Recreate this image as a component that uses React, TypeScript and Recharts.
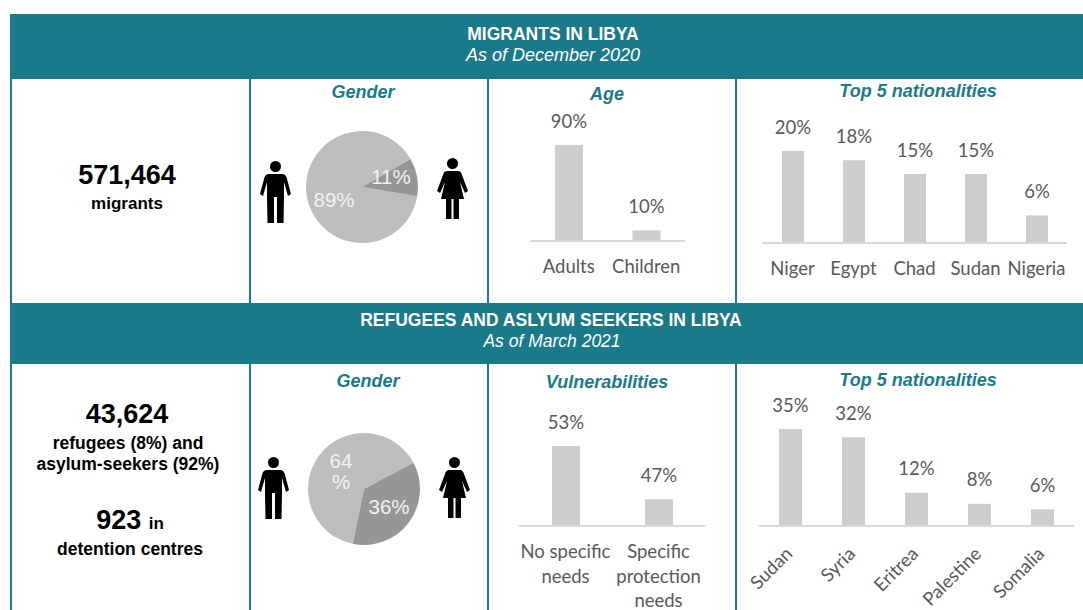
import { BarChart, Bar, XAxis, YAxis, LabelList, PieChart, Pie, Cell } from 'recharts';

const TEAL = '#1a7a8a';
const BAR_GREY = '#cdcdcd';
const AXIS_GREY = '#d9d9d9';
const TEXT_GREY = '#595959';
const SANS = '"Liberation Sans", Arial, sans-serif';
const CHART_FONT = 'Lato, "Open Sans", sans-serif';
const CHART_PAD = 40;

const genderMigrants = [89, 11];
const genderMigrantLabels = ['89%', '11%'];
const genderRefugees = [64, 36];
const genderRefugeeLabels = ['64\n%', '36%'];
const pieColors = ['#bdbdbd', '#969696'];

const ageCategories = ['Adults', 'Children'];
const ageValues = [90, 10];

const migrantNationalities = ['Niger', 'Egypt', 'Chad', 'Sudan', 'Nigeria'];
const migrantNationalityValues = [20, 18, 15, 15, 6];

const vulnerabilityCategories = ['No specific\nneeds', 'Specific\nprotection\nneeds'];
const vulnerabilityValues = [53, 47];

const refugeeNationalities = ['Sudan', 'Syria', 'Eritrea', 'Palestine', 'Somalia'];
const refugeeNationalityValues = [35, 32, 12, 8, 6];

function Label({ x, y, size, bold, italic, color = '#000', children }: any) {
  return (
    <div
      style={{
        position: 'absolute',
        left: x - 250,
        top: y - 20,
        width: 500,
        height: 40,
        lineHeight: '40px',
        textAlign: 'center',
        fontFamily: SANS,
        fontSize: size,
        fontWeight: bold ? 700 : 400,
        fontStyle: italic ? 'italic' : 'normal',
        color,
        whiteSpace: 'nowrap',
      }}
    >
      {children}
    </div>
  );
}

function Block({ x, y, w, h }: { x: number; y: number; w: number; h: number }) {
  return <div style={{ position: 'absolute', left: x, top: y, width: w, height: h, background: TEAL }} />;
}

function Person({ x, y, female }: { x: number; y: number; female?: boolean }) {
  return (
    <svg width={31} height={62} viewBox="0 0 31 62" style={{ position: 'absolute', left: x, top: y }}>
      <circle cx={15.5} cy={5.5} r={5.5} fill="#000" />
      {female ? (
        <path
          d="M10 13 H21 Q24 13 25 17 L31 33 L28 35 L23 24 L27 41 H22 V61 H16.5 V41 H14.5 V61 H9 V41 H4 L8 24 L3 35 L0 33 L6 17 Q7 13 10 13 Z"
          fill="#000"
        />
      ) : (
        <path
          d="M9 13 H22 Q26 13 27 18 L31 33 L28 35 L24 21 V36 L23.5 62 H17 V36 H14 V62 H7.5 L7 36 V21 L3 35 L0 33 L4 18 Q5 13 9 13 Z"
          fill="#000"
        />
      )}
    </svg>
  );
}

function GenderPie({ left, top, values, labels, colors, startAngle, offsets }: any) {
  const data = values.map((value: number, i: number) => ({ name: labels[i], value }));
  const renderLabel = ({ cx, cy, index }: any) => {
    const [dx, dy] = offsets[index];
    const lines = labels[index].split('\n');
    return (
      <text textAnchor="middle" fontFamily={SANS} fontSize={20.5} fill="#f2f2f2">
        {lines.map((line: string, i: number) => (
          <tspan key={line} x={cx + dx} y={cy + dy + i * 21} dy={7}>
            {line}
          </tspan>
        ))}
      </text>
    );
  };
  return (
    <div style={{ position: 'absolute', left, top }}>
      <PieChart width={120} height={120} margin={{ top: 0, right: 0, bottom: 0, left: 0 }}>
        <Pie
          data={data}
          dataKey="value"
          cx={60}
          cy={60}
          outerRadius={56}
          startAngle={startAngle}
          endAngle={startAngle + 360}
          stroke="none"
          label={renderLabel}
          labelLine={false}
          isAnimationActive={false}
        >
          {data.map((_: any, i: number) => (
            <Cell key={i} fill={colors[i]} />
          ))}
        </Pie>
      </PieChart>
    </div>
  );
}

function WrappedTick({ x, y, payload, lineGap, tickOffset }: any) {
  const lines = String(payload.value).split('\n');
  return (
    <text textAnchor="middle" fontFamily={CHART_FONT} fontSize={18.5} fill={TEXT_GREY}>
      {lines.map((line, i) => (
        <tspan key={line} x={x} y={y + tickOffset + i * lineGap}>
          {line}
        </tspan>
      ))}
    </text>
  );
}

function SlantedTick({ x, y, payload }: any) {
  return (
    <text
      transform={`translate(${x + 3},${y + 21}) rotate(-45)`}
      textAnchor="end"
      fontFamily={CHART_FONT}
      fontSize={18.5}
      fill={TEXT_GREY}
    >
      {payload.value}
    </text>
  );
}

function ColumnChart({ left, width, baseline, plotHeight, categories, values, domain, barSize, tick }: any) {
  const data = categories.map((name: string, i: number) => ({ name, value: values[i] }));
  const marginTop = 45;
  const axisHeight = 84;
  return (
    <div style={{ position: 'absolute', left: left - CHART_PAD, top: baseline - plotHeight - marginTop }}>
      <BarChart
        width={width + CHART_PAD}
        height={marginTop + plotHeight + axisHeight}
        data={data}
        margin={{ top: marginTop, right: 0, bottom: 0, left: CHART_PAD }}
      >
        <XAxis
          dataKey="name"
          interval={0}
          height={axisHeight}
          tickLine={false}
          axisLine={{ stroke: AXIS_GREY, strokeWidth: 2 }}
          tick={tick}
        />
        <YAxis hide domain={domain} allowDataOverflow />
        <Bar dataKey="value" fill={BAR_GREY} barSize={barSize} isAnimationActive={false}>
          <LabelList
            dataKey="value"
            position="top"
            offset={17.5}
            formatter={(v: number) => `${v}%`}
            style={{ fontFamily: CHART_FONT, fontSize: 18.5, fill: TEXT_GREY }}
          />
        </Bar>
      </BarChart>
    </div>
  );
}

export default function App() {
  const straightTick = <WrappedTick lineGap={24.5} tickOffset={24} />;
  return (
    <div style={{ position: 'absolute', left: 0, top: 0, width: 1083, height: 610, overflow: 'hidden', background: '#fff' }}>
      <Block x={10} y={14} w={1073} h={65} />
      <Block x={10} y={303} w={1073} h={61} />
      <Block x={10} y={79} w={2} h={531} />
      {[250, 488, 736].map((x) => (
        <Block key={x} x={x - 1} y={79} w={2} h={531} />
      ))}

      <Label x={553} y={34} size={17.5} bold color="#fff">MIGRANTS IN LIBYA</Label>
      <Label x={553} y={55} size={18} italic color="#fff">As of December 2020</Label>
      <Label x={551} y={320} size={17.5} bold color="#fff">REFUGEES AND ASLYUM SEEKERS IN LIBYA</Label>
      <Label x={552} y={341} size={17.5} italic color="#fff">As of March 2021</Label>

      <Label x={127} y={175} size={27} bold>571,464</Label>
      <Label x={127} y={204} size={17} bold>migrants</Label>
      <Label x={127} y={414} size={27} bold>43,624</Label>
      <Label x={128} y={443} size={17.5} bold>refugees (8%) and</Label>
      <Label x={128} y={464} size={17.5} bold>asylum-seekers (92%)</Label>
      <Label x={130} y={520} size={27} bold>
        923 <span style={{ fontSize: 17 }}>in</span>
      </Label>
      <Label x={130} y={549} size={17.5} bold>detention centres</Label>

      <Label x={363} y={92} size={18} bold italic color={TEAL}>Gender</Label>
      <Label x={607} y={94} size={18} bold italic color={TEAL}>Age</Label>
      <Label x={918} y={91} size={18} bold italic color={TEAL}>Top 5 nationalities</Label>
      <Label x={368} y={381} size={18} bold italic color={TEAL}>Gender</Label>
      <Label x={607} y={382} size={18} bold italic color={TEAL}>Vulnerabilities</Label>
      <Label x={918} y={380} size={18} bold italic color={TEAL}>Top 5 nationalities</Label>

      <Person x={260} y={161} />
      <Person x={437} y={158} female />
      <Person x={258} y={457} />
      <Person x={439} y={457} female />

      <GenderPie
        left={302}
        top={127}
        values={genderMigrants}
        labels={genderMigrantLabels}
        colors={pieColors}
        startAngle={30}
        offsets={[[-28, 13], [29, -10]]}
      />
      <GenderPie
        left={304}
        top={429}
        values={genderRefugees}
        labels={genderRefugeeLabels}
        colors={pieColors}
        startAngle={28}
        offsets={[[-23, -28], [25, 18]]}
      />

      <ColumnChart
        left={530}
        width={155}
        baseline={241}
        plotHeight={96}
        categories={ageCategories}
        values={ageValues}
        domain={[0, 90]}
        barSize={28}
        tick={straightTick}
      />
      <ColumnChart
        left={762}
        width={305}
        baseline={243}
        plotHeight={92}
        categories={migrantNationalities}
        values={migrantNationalityValues}
        domain={[0, 20]}
        barSize={22}
        tick={straightTick}
      />
      <ColumnChart
        left={519}
        width={186}
        baseline={526}
        plotHeight={80}
        categories={vulnerabilityCategories}
        values={vulnerabilityValues}
        domain={[44, 53]}
        barSize={28}
        tick={straightTick}
      />
      <ColumnChart
        left={759}
        width={315}
        baseline={526}
        plotHeight={97}
        categories={refugeeNationalities}
        values={refugeeNationalityValues}
        domain={[0, 35]}
        barSize={23}
        tick={<SlantedTick />}
      />
    </div>
  );
}
